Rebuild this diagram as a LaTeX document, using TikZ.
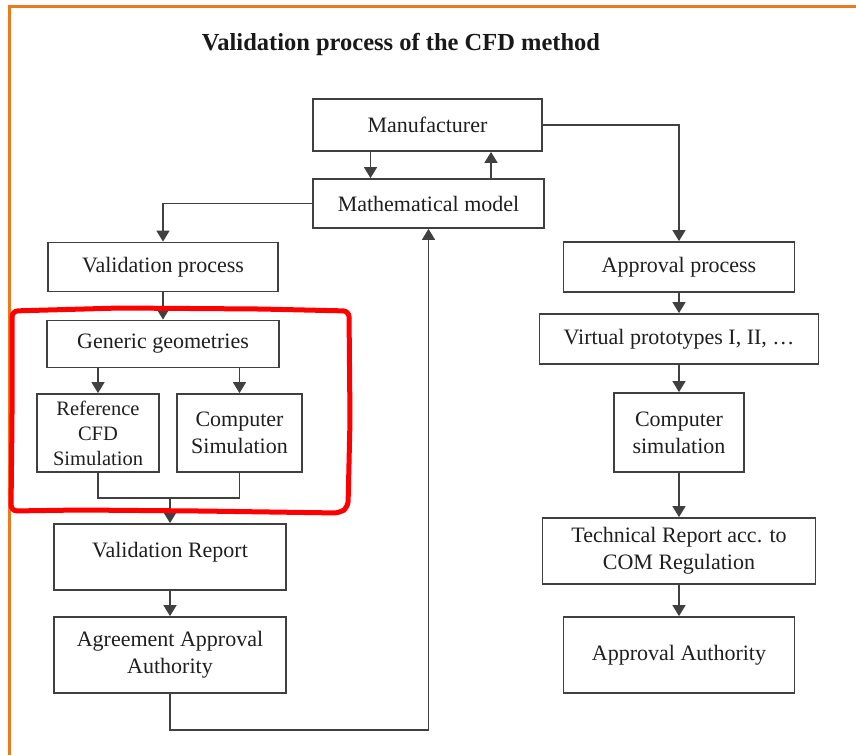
\documentclass[tikz,border=0pt]{standalone}
\usepackage{fontspec}
\setmainfont{Liberation Serif}
\usetikzlibrary{arrows.meta}
\definecolor{frameorange}{HTML}{EA7A1C}
\definecolor{lineink}{HTML}{404040}
\begin{document}
\begin{tikzpicture}[x=1pt,y=-1pt,
  box/.style={draw=lineink, line width=1.8pt, inner sep=0pt, align=center,
    font=\fontsize{22}{27}\selectfont, text=black!88},
  arr/.style={draw=lineink, line width=1.6pt, -{Triangle[width=13pt,length=11pt]}},
  link/.style={draw=lineink, line width=1.6pt},
  mark outline/.style={draw=red, line width=5pt, rounded corners=6pt, line cap=round}]
\useasboundingbox (0,0) rectangle (856,755);
\fill[white] (0,0) rectangle (856,755);

% page frame
\draw[frameorange, line width=3pt] (9.5,755) -- (9.5,6.5) -- (856,6.5);

% title
\node[font=\bfseries\fontsize{24.5}{28}\selectfont, text=black!90] (title) at (401,44)
  {Validation process of the CFD method};

% top of the chart
\node[box, minimum width=229pt, minimum height=52pt] (man) at (427.5,125) {Manufacturer};
\node[box, minimum width=231pt, minimum height=49pt] (math) at (428.5,203.5) {Mathematical model};

% validation branch
\node[box, minimum width=230pt, minimum height=49pt] (vp) at (163,267) {Validation process};
\node[box, minimum width=232pt, minimum height=47pt] (gg) at (163,344) {Generic geometries};
\node[box, minimum width=122pt, minimum height=78pt, font=\fontsize{20.5}{25}\selectfont] (ref) at (98,433)
  {Reference\\CFD\\Simulation};
\node[box, minimum width=125pt, minimum height=78pt] (cs) at (239.5,433) {Computer\\Simulation};
\node[box, minimum width=232pt, minimum height=66pt, text depth=14pt] (vr) at (170,557) {Validation Report};
\node[box, minimum width=232pt, minimum height=76pt] (aaa) at (170,655) {Agreement Approval\\Authority};

% approval branch
\node[box, minimum width=231pt, minimum height=50pt] (ap) at (679,267) {Approval process};
\node[box, minimum width=279pt, minimum height=50pt] (vproto) at (679,339) {Virtual prototypes I, II, \ldots};
\node[box, minimum width=130pt, minimum height=79pt] (csim) at (679,432.5) {Computer\\simulation};
\node[box, minimum width=273pt, minimum height=66pt] (tr) at (679,551) {Technical Report acc. to\\COM Regulation};
\node[box, minimum width=231pt, minimum height=76pt] (aa) at (679,655) {Approval Authority};

% helper points
\coordinate (join) at (167,498);
\coordinate (loop) at (0,730);

% connectors
\draw[arr] ([xshift=-57pt]man.south) -- ([xshift=-57pt]man.south |- math.north);
\draw[arr] ([xshift=62.5pt]math.north) -- ([xshift=62.5pt]math.north |- man.south);
\draw[arr] (math.west) -| (vp.north);
\draw[arr] (man.east) -| (ap.north);
\draw[arr] (vp.south) -- (gg.north);
\draw[arr] (gg.south -| ref.north) -- (ref.north);
\draw[arr] (gg.south -| cs.north) -- (cs.north);
\draw[link] (ref.south) |- (join) -| (cs.south);
\draw[arr] (join -| vr.north) -- (vr.north);
\draw[arr] (vr.south) -- (aaa.north);
\draw[arr] (aaa.south) -- (aaa.south |- loop) -| (math.south);
\draw[arr] (ap.south) -- (vproto.north);
\draw[arr] (vproto.south) -- (csim.north);
\draw[arr] (csim.south) -- (tr.north);
\draw[arr] (tr.south) -- (aa.north);

% hand-drawn highlight around the simulation block
\draw[mark outline] (12,311) -- (120,308) -- (260,309) -- (349,311) -- (350,420)
  -- (348,507) -- (340,513) -- (200,511) -- (80,510) -- (11,511) -- (12,420) -- cycle;
\end{tikzpicture}
\end{document}
